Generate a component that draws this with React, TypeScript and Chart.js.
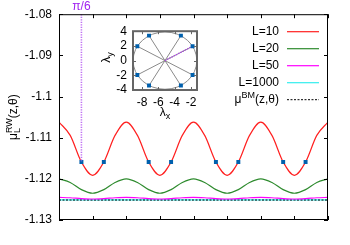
import React, { useEffect, useRef } from "react";
import { Chart, registerables } from "chart.js";
Chart.register(...registerables);

const FONT = "'Liberation Sans', Arial, sans-serif";

// ---- main panel data (theta in degrees, 0..360) ----
const thetaDeg = [0, 15, 30, 45, 60, 75, 90, 105, 120, 135, 150, 165, 180, 195, 210, 225, 240, 255, 270, 285, 300, 315, 330, 345, 360];
const muL10 = [
  -1.10621, -1.10945, -1.11592, -1.11915, -1.11592, -1.10945,
  -1.10621, -1.10945, -1.11592, -1.11915, -1.11592, -1.10945,
  -1.10621, -1.10945, -1.11592, -1.11915, -1.11592, -1.10945,
  -1.10621, -1.10945, -1.11592, -1.11915, -1.11592, -1.10945,
  -1.10621,
];
const muL20 = [
  -1.12000, -1.12088, -1.12263, -1.12350, -1.12263, -1.12088,
  -1.12000, -1.12088, -1.12263, -1.12350, -1.12263, -1.12088,
  -1.12000, -1.12088, -1.12263, -1.12350, -1.12263, -1.12088,
  -1.12000, -1.12088, -1.12263, -1.12350, -1.12263, -1.12088,
  -1.12000,
];
const muL50 = [
  -1.12450, -1.12460, -1.12480, -1.12490, -1.12480, -1.12460,
  -1.12450, -1.12460, -1.12480, -1.12490, -1.12480, -1.12460,
  -1.12450, -1.12460, -1.12480, -1.12490, -1.12480, -1.12460,
  -1.12450, -1.12460, -1.12480, -1.12490, -1.12480, -1.12460,
  -1.12450,
];
const muL1000 = [
  -1.12512, -1.12512, -1.12512, -1.12512, -1.12512, -1.12512,
  -1.12512, -1.12512, -1.12512, -1.12512, -1.12512, -1.12512,
  -1.12512, -1.12512, -1.12512, -1.12512, -1.12512, -1.12512,
  -1.12512, -1.12512, -1.12512, -1.12512, -1.12512, -1.12512,
  -1.12512,
];
const muBM = [
  -1.12515, -1.12515, -1.12515, -1.12515, -1.12515, -1.12515,
  -1.12515, -1.12515, -1.12515, -1.12515, -1.12515, -1.12515,
  -1.12515, -1.12515, -1.12515, -1.12515, -1.12515, -1.12515,
  -1.12515, -1.12515, -1.12515, -1.12515, -1.12515, -1.12515,
  -1.12515,
];
const markerTheta = [30, 60, 120, 150, 210, 240, 300, 330];
const markerMu = [-1.1159, -1.1159, -1.1159, -1.1159, -1.1159, -1.1159, -1.1159, -1.1159];
const piSixTheta = [30, 30];
const piSixMu = [-1.08, -1.1159];
const piSixLabel = "π/6";
const xTicks = [0, 45, 90, 135, 180, 225, 270, 315, 360];
const yTicks = [-1.13, -1.12, -1.11, -1.1, -1.09, -1.08];
const yTickLabels = ["-1.13", "-1.12", "-1.11", "-1.1", "-1.09", "-1.08"];
const seriesLabels = ["L=10", "L=20", "L=50", "L=1000"];
const seriesColors = ["#ff2020", "#2e8b2e", "#ff00ff", "#33eeee"];

// ---- inset data ----
const lambdaX = [-1.81, -3.24, -7.14, -8.57, -8.57, -7.14, -3.24, -1.81];
const lambdaY = [1.95, 3.4, 3.4, 1.95, -1.95, -3.4, -3.4, -1.95];
const circleCenterX = -5.19;
const circleCenterY = 0;
const circleRadius = 3.9;
const insetXTicks = [-8, -6, -4, -2];
const insetYTicks = [-4, -2, 0, 2, 4];
const insetXTickLabels = ["-8", "-6", "-4", "-2"];
const insetYTickLabels = ["-4", "-2", "0", "2", "4"];

type Run = { t: string; size: number; dy: number };
function drawRich(ctx: CanvasRenderingContext2D, groups: Run[][], x: number, y: number, align: string) {
  const widths = groups.map((g) =>
    Math.max(...g.map((r) => { ctx.font = `${r.size}px ${FONT}`; return ctx.measureText(r.t).width; }))
  );
  const total = widths.reduce((a, b) => a + b, 0);
  let cx = align === "center" ? x - total / 2 : align === "right" ? x - total : x;
  ctx.textAlign = "left";
  ctx.textBaseline = "alphabetic";
  groups.forEach((g, i) => {
    g.forEach((r) => {
      ctx.font = `${r.size}px ${FONT}`;
      ctx.fillText(r.t, cx, y + r.dy);
    });
    cx += widths[i];
  });
}

const pts = (xs: number[], ys: number[]) => xs.map((x, i) => ({ x, y: ys[i] }));

const mainDecor = {
  id: "mainDecor",
  afterDraw(chart: any) {
    const { ctx, chartArea: a, scales } = chart;
    const xs = scales.x, ys = scales.y;
    ctx.save();
    ctx.strokeStyle = "#000";
    ctx.lineWidth = 1;
    ctx.strokeRect(a.left + 0.5, a.top + 0.5, a.right - a.left - 1, a.bottom - a.top - 1);
    ctx.beginPath();
    xTicks.forEach((v) => {
      const p = Math.round(xs.getPixelForValue(v)) + 0.5;
      ctx.moveTo(p, a.bottom); ctx.lineTo(p, a.bottom - 4);
      ctx.moveTo(p, a.top); ctx.lineTo(p, a.top + 4);
    });
    yTicks.forEach((v) => {
      const p = Math.round(ys.getPixelForValue(v)) + 0.5;
      ctx.moveTo(a.left, p); ctx.lineTo(a.left + 4, p);
      ctx.moveTo(a.right, p); ctx.lineTo(a.right - 4, p);
    });
    ctx.stroke();

    // pi/6 label
    ctx.fillStyle = "#a020f0";
    ctx.font = `12px ${FONT}`;
    ctx.textAlign = "center";
    ctx.textBaseline = "middle";
    ctx.fillText(piSixLabel, xs.getPixelForValue(piSixTheta[0]), a.top - 8);

    // legend
    const tx = a.right - 49;
    const lx0 = a.right - 41, lx1 = a.right - 9;
    ctx.fillStyle = "#000";
    seriesLabels.forEach((lab, i) => {
      const yy = a.top + 17 + 17 * i;
      ctx.font = `12px ${FONT}`;
      ctx.textAlign = "right";
      ctx.textBaseline = "middle";
      ctx.fillStyle = "#000";
      ctx.fillText(lab, tx, yy);
      ctx.strokeStyle = seriesColors[i];
      ctx.lineWidth = 1.2;
      ctx.setLineDash([]);
      ctx.beginPath();
      ctx.moveTo(lx0, yy + 0.5); ctx.lineTo(lx1, yy + 0.5);
      ctx.stroke();
    });
    const yb = a.top + 17 + 17 * 4;
    ctx.fillStyle = "#000";
    drawRich(ctx, [[{ t: "μ", size: 12, dy: 0 }], [{ t: "BM", size: 9, dy: -5 }], [{ t: "(z,θ)", size: 12, dy: 0 }]], tx, yb + 4, "right");
    ctx.strokeStyle = "#000";
    ctx.lineWidth = 1;
    ctx.setLineDash([2, 1.5]);
    ctx.beginPath();
    ctx.moveTo(lx0, yb + 0.5); ctx.lineTo(lx1, yb + 0.5);
    ctx.stroke();
    ctx.setLineDash([]);

    // y title
    ctx.translate(a.left - 42, (a.top + a.bottom) / 2);
    ctx.rotate(-Math.PI / 2);
    ctx.fillStyle = "#000";
    drawRich(ctx, [
      [{ t: "μ", size: 12, dy: 0 }],
      [{ t: "L", size: 9, dy: 3 }, { t: "RW", size: 9, dy: -5 }],
      [{ t: "(z,θ)", size: 12, dy: 0 }],
    ], 0, 0, "center");
    ctx.restore();
  },
};

const insetDecor = {
  id: "insetDecor",
  beforeDatasetsDraw(chart: any) {
    const { ctx, chartArea: a, scales } = chart;
    const xs = scales.x, ys = scales.y;
    ctx.save();
    ctx.beginPath();
    ctx.rect(a.left, a.top, a.right - a.left, a.bottom - a.top);
    ctx.clip();
    const cx = xs.getPixelForValue(circleCenterX);
    const cy = ys.getPixelForValue(circleCenterY);
    const rx = Math.abs(xs.getPixelForValue(circleCenterX + circleRadius) - cx);
    const ry = Math.abs(ys.getPixelForValue(circleCenterY + circleRadius) - cy);
    ctx.strokeStyle = "#8a8a8a";
    ctx.lineWidth = 1;
    ctx.beginPath();
    ctx.ellipse(cx, cy, rx, ry, 0, 0, Math.PI * 2);
    ctx.stroke();
    ctx.restore();
  },
  afterDraw(chart: any) {
    const { ctx, chartArea: a, scales } = chart;
    const xs = scales.x, ys = scales.y;
    ctx.save();
    ctx.strokeStyle = "#666";
    ctx.lineWidth = 2;
    ctx.strokeRect(a.left, a.top, a.right - a.left, a.bottom - a.top);
    ctx.lineWidth = 1;
    ctx.beginPath();
    insetXTicks.forEach((v) => {
      const p = Math.round(xs.getPixelForValue(v)) + 0.5;
      ctx.moveTo(p, a.bottom); ctx.lineTo(p, a.bottom - 3);
      ctx.moveTo(p, a.top); ctx.lineTo(p, a.top + 3);
    });
    insetYTicks.forEach((v) => {
      const p = Math.round(ys.getPixelForValue(v)) + 0.5;
      ctx.moveTo(a.left, p); ctx.lineTo(a.left + 3, p);
      ctx.moveTo(a.right, p); ctx.lineTo(a.right - 3, p);
    });
    ctx.stroke();
    ctx.fillStyle = "#000";
    drawRich(ctx, [[{ t: "λ", size: 12, dy: 0 }], [{ t: "x", size: 9, dy: 3 }]], (a.left + a.right) / 2, a.bottom + 26, "center");
    ctx.translate(a.left - 23, (a.top + a.bottom) / 2 - 3);
    ctx.rotate(-Math.PI / 2);
    drawRich(ctx, [[{ t: "λ", size: 12, dy: 0 }], [{ t: "y", size: 9, dy: 3 }]], 0, 0, "center");
    ctx.restore();
  },
};

export default function App() {
  const mainRef = useRef<HTMLCanvasElement>(null);
  const insetRef = useRef<HTMLCanvasElement>(null);

  useEffect(() => {
    Chart.defaults.font.family = FONT;
    const curve = (data: number[], color: string, extra: any = {}) => ({
      data: pts(thetaDeg, data),
      showLine: true,
      borderColor: color,
      backgroundColor: color,
      borderWidth: 1.2,
      pointRadius: 0,
      cubicInterpolationMode: "monotone",
      ...extra,
    });
    const main = new Chart(mainRef.current!, {
      type: "scatter",
      data: {
        datasets: [
          {
            data: pts(piSixTheta, piSixMu),
            showLine: true,
            borderColor: "#c070f4",
            borderWidth: 1.6,
            borderDash: [1.2, 1.3],
            pointRadius: 0,
          },
          {
            data: pts(markerTheta, markerMu),
            pointStyle: "rect",
            pointRadius: 2.8,
            backgroundColor: "#0060ad",
            borderColor: "#0060ad",
            borderWidth: 0,
          },
          curve(muL10, seriesColors[0]),
          curve(muL20, seriesColors[1]),
          curve(muL50, seriesColors[2]),
          curve(muBM, "#000", { borderDash: [2, 1.5], borderWidth: 1 }),
          curve(muL1000, seriesColors[3]),
        ] as any,
      },
      options: {
        animation: false,
        responsive: false,
        devicePixelRatio: 1,
        events: [],
        layout: { padding: { top: 14, right: 22, left: 0, bottom: 0 } },
        plugins: { legend: { display: false }, tooltip: { enabled: false } },
        scales: {
          x: {
            type: "linear",
            min: 0,
            max: 360,
            grid: { display: false, drawTicks: false },
            border: { display: false },
            ticks: { display: false },
            afterBuildTicks: (s: any) => { s.ticks = xTicks.map((v) => ({ value: v })); },
            afterFit: (s: any) => { s.height = 25; },
          },
          y: {
            type: "linear",
            min: -1.13,
            max: -1.08,
            grid: { display: false, drawTicks: false },
            border: { display: false },
            ticks: {
              color: "#000",
              font: { size: 12, family: FONT },
              padding: 7,
              callback: (_v: any, i: number) => yTickLabels[i],
            },
            afterBuildTicks: (s: any) => { s.ticks = yTicks.map((v) => ({ value: v })); },
            afterFit: (s: any) => { s.width = 59; },
          },
        },
      } as any,
      plugins: [mainDecor],
    });

    const spokes = lambdaX.map((lx, i) => ({
      data: [{ x: circleCenterX, y: circleCenterY }, { x: lx, y: lambdaY[i] }],
      showLine: true,
      borderColor: "#8a8a8a",
      borderWidth: 1,
      pointRadius: 0,
    }));
    const inset = new Chart(insetRef.current!, {
      type: "scatter",
      data: {
        datasets: [
          {
            data: pts(lambdaX, lambdaY),
            pointStyle: "rect",
            pointRadius: 2.8,
            backgroundColor: "#0060ad",
            borderColor: "#0060ad",
            borderWidth: 0,
          },
          {
            data: [{ x: circleCenterX, y: circleCenterY }, { x: lambdaX[0], y: lambdaY[0] }],
            showLine: true,
            borderColor: "#b040f0",
            borderWidth: 1.4,
            borderDash: [1.2, 1.3],
            pointRadius: 0,
          },
          ...spokes,
        ] as any,
      },
      options: {
        animation: false,
        responsive: false,
        devicePixelRatio: 1,
        events: [],
        layout: { padding: { top: 8, right: 8, left: 0, bottom: 0 } },
        plugins: { legend: { display: false }, tooltip: { enabled: false } },
        scales: {
          x: {
            type: "linear",
            min: -9.1,
            max: -1.27,
            grid: { display: false, drawTicks: false },
            border: { display: false },
            ticks: {
              color: "#000",
              font: { size: 12, family: FONT },
              padding: 5,
              maxRotation: 0,
              autoSkip: false,
              callback: (_v: any, i: number) => insetXTickLabels[i],
            },
            afterBuildTicks: (s: any) => { s.ticks = insetXTicks.map((v) => ({ value: v })); },
            afterFit: (s: any) => { s.height = 33; },
          },
          y: {
            type: "linear",
            min: -4,
            max: 4,
            grid: { display: false, drawTicks: false },
            border: { display: false },
            ticks: {
              color: "#000",
              font: { size: 12, family: FONT },
              padding: 6,
              autoSkip: false,
              callback: (_v: any, i: number) => insetYTickLabels[i],
            },
            afterBuildTicks: (s: any) => { s.ticks = insetYTicks.map((v) => ({ value: v })); },
            afterFit: (s: any) => { s.width = 38; },
          },
        },
      } as any,
      plugins: [insetDecor],
    });

    return () => {
      main.destroy();
      inset.destroy();
    };
  }, []);

  return (
    <div style={{ position: "fixed", left: 0, top: 0, width: 350, height: 245, background: "#fff" }}>
      <canvas ref={mainRef} width={350} height={245} style={{ position: "absolute", left: 0, top: 0, width: 350, height: 245 }} />
      <canvas ref={insetRef} width={110} height={105} style={{ position: "absolute", left: 95, top: 18, width: 110, height: 105 }} />
    </div>
  );
}
